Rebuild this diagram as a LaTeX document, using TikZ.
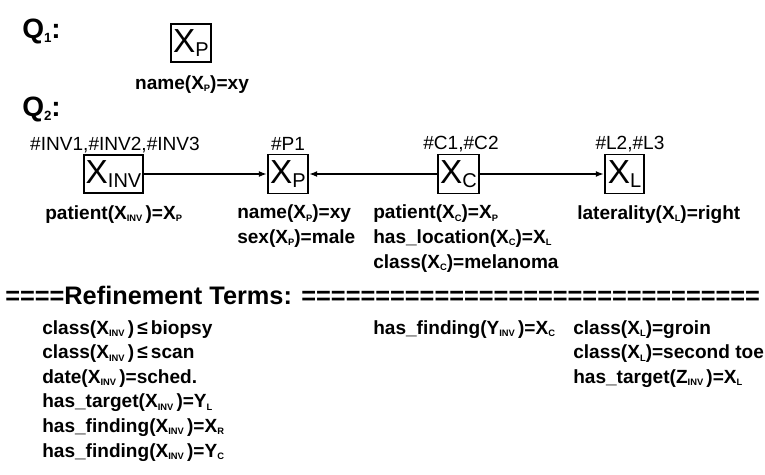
\documentclass[tikz,border=0pt]{standalone}
\usepackage{fontspec}
\setmainfont{Liberation Sans}
\usetikzlibrary{arrows.meta,positioning}
\newcommand{\vsub}[1]{\raisebox{-3.5pt}{\fontsize{15}{15}\selectfont #1}}
\newcommand{\lsub}[1]{\raisebox{-1.8pt}{\fontsize{7}{7}\selectfont #1}}
\newcommand{\qsub}[1]{\raisebox{-3pt}{\fontsize{10}{10}\selectfont #1}}

\begin{document}
\begin{tikzpicture}[x=0.75pt,y=-0.75pt,>=Latex,
  varbox/.style={draw,line width=1.1pt,inner sep=1.5pt,minimum width=29pt,minimum height=29pt,font=\fontsize{25}{25}\selectfont},
  tag/.style={anchor=base,inner sep=0pt,font=\fontsize{14.3}{16}\selectfont},
  term/.style={anchor=base west,align=left,inner sep=0pt,font=\bfseries\fontsize{14.3}{18.4}\selectfont},
  query/.style={anchor=base west,inner sep=0pt,font=\bfseries\fontsize{21}{21}\selectfont},
  link/.style={->,line width=1.1pt,shorten >=0.5pt,>={Latex[length=6pt,width=4.5pt]}}]
\useasboundingbox (0,0) rectangle (765,475);
% query 1
\node[query] (q1) at (22,38) {Q\qsub{1}:};
\node[varbox,line width=1.6pt] (q1p) at (191,43) {X\vsub{P}};
\node[term,anchor=base] (q1name) at (192,89) {name(X\lsub{P})=xy};
% query 2
\node[query] (q2) at (22,116) {Q\qsub{2}:};
\node[varbox,line width=1.6pt] (inv) at (113.5,174) {X\vsub{INV}};
\node[varbox] (p) at (288,174) {X\vsub{P}};
\node[varbox] (c) at (458.5,174) {X\vsub{C}};
\node[varbox] (l) at (624.5,174) {X\vsub{L}};
\node[tag] (invtag) at (115,150) {\#INV1,\#INV2,\#INV3};
\node[tag] (ptag) at (288,150) {\#P1};
\node[tag] (ctag) at (461,149) {\#C1,\#C2};
\node[tag] (ltag) at (630,149) {\#L2,\#L3};
\draw[link] (inv) -- (p);
\draw[link] (c) -- (p);
\draw[link] (c) -- (l);
% multi-line terms sit on the baseline of their last line
\node[term] (invterm) at (45,219) {patient(X\lsub{INV}\,)=X\lsub{P}};
\node[term] (pterm) at (237,243.5) {name(X\lsub{P})=xy\\sex(X\lsub{P})=male};
\node[term] (cterm) at (373,268) {patient(X\lsub{C})=X\lsub{P}\\has\_location(X\lsub{C})=X\lsub{L}\\class(X\lsub{C})=melanoma};
\node[term] (lterm) at (577,219) {laterality(X\lsub{L})=right};
% refinement terms
\node[anchor=base west,inner sep=0pt,font=\bfseries\fontsize{19}{19}\selectfont] (refine) at (5,304) {====Refinement Terms: ===============================};
\node[term] (invref) at (42,457) {class(X\lsub{INV}\,)\,≤\,biopsy\\class(X\lsub{INV}\,)\,≤\,scan\\date(X\lsub{INV}\,)=sched.\\has\_target(X\lsub{INV}\,)=Y\lsub{L}\\has\_finding(X\lsub{INV}\,)=X\lsub{R}\\has\_finding(X\lsub{INV}\,)=Y\lsub{C}};
\node[term] (yref) at (373,334.5) {has\_finding(Y\lsub{INV}\,)=X\lsub{C}};
\node[term] (lref) at (573,383.5) {class(X\lsub{L})=groin\\class(X\lsub{L})=second toe\\has\_target(Z\lsub{INV}\,)=X\lsub{L}};
\end{tikzpicture}
\end{document}
